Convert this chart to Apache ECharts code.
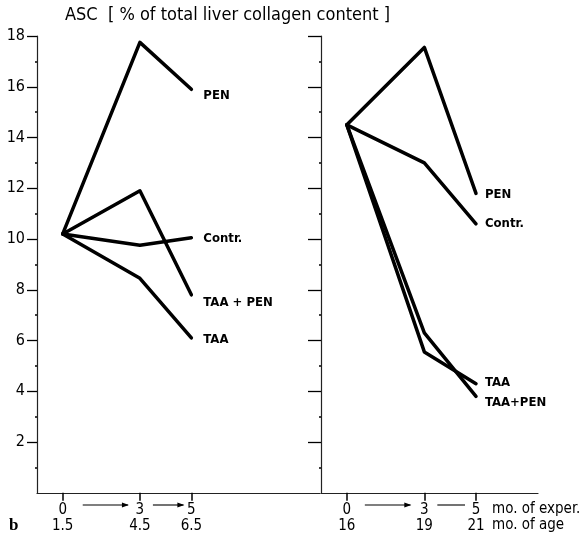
<!DOCTYPE html>
<html>
<head>
<meta charset="utf-8">
<script src="https://cdn.jsdelivr.net/npm/echarts@6/dist/echarts.min.js"></script>
<style>html,body{margin:0;padding:0;background:#fff}#c{width:582px;height:550px}</style>
</head>
<body>
<div id="c"></div>
<script>
// ---- data ----
const months = [0, 3, 5];
const ageLeft = ['1.5', '4.5', '6.5'];
const ageRight = ['16', '19', '21'];
const yTicks = [2, 4, 6, 8, 10, 12, 14, 16, 18];

const leftPEN = [10.2, 17.75, 15.9];
const leftContr = [10.2, 9.75, 10.05];
const leftTAAPEN = [10.2, 11.9, 7.8];
const leftTAA = [10.2, 8.45, 6.1];

const rightPEN = [14.5, 17.55, 11.8];
const rightContr = [14.5, 13.0, 10.6];
const rightTAA = [14.5, 5.55, 4.3];
const rightTAAPEN = [14.5, 6.3, 3.8];

const titleText = 'ASC  [ % of total liver collagen content ]';
const unitExper = 'mo. of exper.';
const unitAge = 'mo. of age';
const panelTag = 'b';

// ---- chart ----
const FONT = '"DejaVu Sans Condensed", "Noto Sans", sans-serif';
const chart = echarts.init(document.getElementById('c'), null, {renderer: 'canvas'});

function pts(arr) { return months.map((m, i) => [m, arr[i]]); }

function lineSeries(name, label, arr, idx, off) {
  return {
    type: 'line', name: name, xAxisIndex: idx, yAxisIndex: idx,
    data: pts(arr), symbol: 'none', silent: true,
    lineStyle: {color: '#000', width: 3.5, cap: 'round', join: 'round'},
    endLabel: {
      show: true, formatter: label, distance: 0, offset: off,
      color: '#000', fontSize: 13, fontWeight: 'bold', fontFamily: FONT, align: 'left', verticalAlign: 'middle'
    },
    z: 3
  };
}

function xAxis(idx, min, max, ages) {
  return {
    type: 'value', gridIndex: idx, min: min, max: max,
    axisLine: {show: true, onZero: false, lineStyle: {color: '#222', width: 1.2}},
    axisTick: {show: true, customValues: months, length: 8, lineStyle: {color: '#000', width: 1.5}},
    axisLabel: {
      show: true, customValues: months, margin: 9,
      formatter: v => v + '\n' + ages[months.indexOf(v)],
      color: '#000', fontSize: 15, lineHeight: 16, fontFamily: FONT
    },
    splitLine: {show: false}
  };
}

function yAxis(idx, showLabels, tickLen) {
  return {
    type: 'value', gridIndex: idx, min: 0, max: 18, interval: 2,
    axisLine: {show: true, onZero: false, lineStyle: {color: '#222', width: 1.2}},
    axisTick: {show: true, customValues: yTicks, length: tickLen, lineStyle: {color: '#000', width: 1.3}},
    minorTick: {show: true, splitNumber: 2, length: 2, lineStyle: {color: '#000', width: 1.5}},
    axisLabel: {
      show: showLabels, customValues: yTicks, margin: 12,
      color: '#000', fontSize: 16, fontFamily: FONT
    },
    splitLine: {show: false}
  };
}

const option = {
  backgroundColor: '#fff',
  animation: false,
  grid: [
    {left: 37, top: 36, width: 283, height: 456.75},
    {left: 321, top: 36, width: 217, height: 456.75}
  ],
  xAxis: [xAxis(0, -1, 10, ageLeft), xAxis(1, -1, 7.4, ageRight)],
  yAxis: [yAxis(0, true, 10), yAxis(1, false, 13)],
  series: [
    lineSeries('PEN', 'PEN', leftPEN, 0, [12, 6]),
    lineSeries('Contr.', 'Contr.', leftContr, 0, [12, 1]),
    lineSeries('TAA + PEN', 'TAA + PEN', leftTAAPEN, 0, [12, 8]),
    lineSeries('TAA', 'TAA', leftTAA, 0, [12, 2]),
    lineSeries('PEN ', 'PEN', rightPEN, 1, [9, 1]),
    lineSeries('Contr. ', 'Contr.', rightContr, 1, [9, 0]),
    lineSeries('TAA ', 'TAA', rightTAA, 1, [9, -1]),
    lineSeries('TAA+PEN', 'TAA+PEN', rightTAAPEN, 1, [9, 6])
  ],
  graphic: [
    {type: 'text', left: 65, top: 6, style: {text: titleText, fontSize: 18, fontFamily: FONT, fill: '#000'}},
    {type: 'text', left: 9, top: 517, style: {text: panelTag, fontSize: 17, fontWeight: 'bold', fontFamily: '"Liberation Serif", "DejaVu Serif", serif', fill: '#000'}}
  ]
};
chart.setOption(option);

// arrows between month ticks, placed from axis scales
function px(idx, v) { return chart.convertToPixel({xAxisIndex: idx}, v); }
const yArrow = 505;
function arrow(x1, x2, head) {
  const g = [{type: 'line', shape: {x1: x1, y1: yArrow, x2: x2, y2: yArrow}, style: {stroke: '#000', lineWidth: 1.1}}];
  if (head) g.push({type: 'polygon', shape: {points: [[x2 + 1, yArrow], [x2 - 6, yArrow - 2.5], [x2 - 6, yArrow + 2.5]]}, style: {fill: '#000'}});
  return g;
}
const g = [].concat(
  arrow(px(0, 0) + 20, px(0, 3) - 12, true),
  arrow(px(0, 3) + 13, px(0, 5) - 8, true),
  arrow(px(1, 0) + 18, px(1, 3) - 14, true),
  arrow(px(1, 3) + 13, px(1, 5) - 11, false),
  [
    {type: 'text', x: px(1, 5) + 16, y: 509, style: {text: unitExper, fontSize: 15, fontFamily: FONT, fill: '#000', verticalAlign: 'middle'}},
    {type: 'text', x: px(1, 5) + 16, y: 525, style: {text: unitAge, fontSize: 15, fontFamily: FONT, fill: '#000', verticalAlign: 'middle'}}
  ]
);
chart.setOption({graphic: option.graphic.concat(g)});
</script>
</body>
</html>
